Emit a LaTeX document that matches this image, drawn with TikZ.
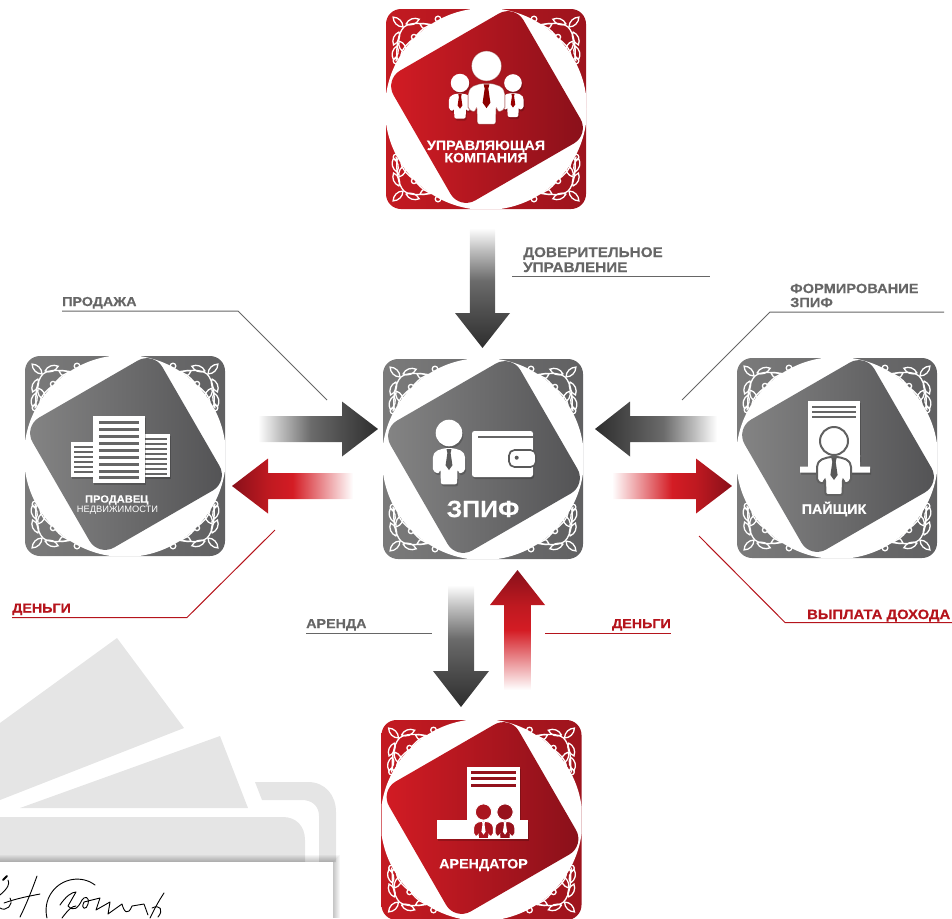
\documentclass[tikz,border=0pt]{standalone}
\usepackage{fontspec}
\setmainfont{Liberation Sans}
\newfontfamily\labfont[FakeStretch=1.1,FakeBold=0.3]{Liberation Sans Bold}
\newfontfamily\capfont[FakeStretch=1.06,FakeBold=0.2]{Liberation Sans Bold}
\usetikzlibrary{shadows}
\definecolor{redL}{HTML}{D41C24}
\definecolor{redD}{HTML}{88101A}
\definecolor{greyL}{HTML}{858585}
\definecolor{greyD}{HTML}{525254}
\definecolor{labgrey}{HTML}{666666}
\definecolor{labred}{HTML}{B5141C}
\definecolor{walletgrey}{HTML}{E5E5E5}
\pgfdeclarehorizontalshading{arrgrey}{100bp}{color(0bp)=(white);color(25bp)=(white);color(34bp)=(white!75!black);color(47bp)=(black!58);color(58bp)=(black!68);color(75bp)=(black!82);color(100bp)=(black!82)}
\pgfdeclarehorizontalshading{arrred}{100bp}{color(0bp)=(white);color(25bp)=(white);color(35bp)=(redL!40);color(50bp)=(redL);color(60bp)=(redL!90!black);color(75bp)=(redD);color(100bp)=(redD)}
\tikzset{
  vine/.style={draw=white,line width=1.3pt,line cap=round,fill=none},
  label node/.style={inner sep=0pt,anchor=base west,font={\labfont\fontsize{13}{13}\selectfont}},
  cap node/.style={inner sep=0pt,text=white,align=center,font={\capfont\fontsize{13.5}{13.5}\selectfont}},
  leader grey/.style={draw=labgrey,line width=1pt},
  leader red/.style={draw=labred,line width=1pt},
  iconwhite/.style={fill=white,draw=none,drop shadow={shadow xshift=1pt,shadow yshift=-2pt,opacity=.2,fill=black}},
  sig/.style={draw=black,line width=0.9pt,line cap=round,line join=round}
}
% leaf from origin along x
\newcommand\lf[3]{\draw[vine,shift={(#1,#2)},rotate=#3] (0,0) .. controls (4,3.8) and (10,3.8) .. (14,0) .. controls (10,-3.8) and (4,-3.8) .. (0,0);}
\newcommand\corner[4]{% cx cy xs ys
\begin{scope}[shift={(#1,#2)},xscale=#3,yscale=#4]
 \draw[vine] (-52,-84) .. controls (-64,-86) and (-76,-87) .. (-82,-82) .. controls (-88,-76) and (-90,-62) .. (-89,-50);
 \draw[vine] (-70,-73) .. controls (-64,-80) and (-60,-83) .. (-54,-84);
 \draw[vine] (-73,-70) .. controls (-80,-64) and (-84,-60) .. (-85,-54);
 \draw[vine] (-72,-72) circle (2.6);
 \draw[vine] (-48,-90) circle (2.8);
 \draw[vine] (-90,-48) circle (2.8);
 \draw[vine] (-52,-84) -- (-48,-88);
 \draw[vine] (-89,-52) -- (-90,-48);
 \lf{-80}{-85}{20}
 \lf{-83}{-82}{135}
 \lf{-87}{-77}{-113}
 \lf{-89}{-63}{-105}
 \lf{-66}{-85}{-25}
 \lf{-87}{-68}{-60}
\end{scope}}
% card: name cx cy light dark
\newcommand\card[5]{
 \node[minimum size=200pt,inner sep=0pt,rounded corners=15pt,left color=#4!92!black,right color=#5!72!#4] (#1) at (#2,#3) {};
 \corner{#2}{#3}{1}{1}\corner{#2}{#3}{-1}{1}\corner{#2}{#3}{1}{-1}\corner{#2}{#3}{-1}{-1}
 \begin{scope}
 \clip[rounded corners=15pt] (#2-100,#3-100) rectangle (#2+100,#3+100);
 \fill[white] (#2,#3) circle (101);
 \end{scope}
 \path[shade,left color=#4,right color=#5,rounded corners=18pt,shift={(#2+1,#3-2)},rotate=30] (-75,-75) rectangle (75,75);
}
% gradient arrow: shading, tail x, tail y, angle, total length, head length, head half, shaft half
\newcommand\garrow[9]{
 \coordinate (#1 tail) at (#3,#4);
 \path[shade,shading=#2,shading angle=#5,shift={(#1 tail)},rotate=#5]
  (0,#9) -- (#6-#7,#9) -- (#6-#7,#8) -- (#6,0) -- (#6-#7,-#8) -- (#6-#7,-#9) -- (0,-#9) -- cycle;
 \coordinate[shift={(#1 tail)},rotate=#5] (#1 tip) at (#6,0);
}
% person: x y scale fill tie outline-style
\newcommand\persn[6]{
 \begin{scope}[shift={(#1,#2)},scale=#3]
 \path[#6,fill=#4] (0,0) circle (14);
 \path[#6,fill=#4,rounded corners=2pt] (-5,16) -- (-14,19) -- (-17,24) -- (-17,40) -- (-11,43) -- (-9,38) -- (-8.5,54) -- (8.5,54) -- (9,38) -- (11,43) -- (17,40) -- (17,24) -- (14,19) -- (5,16) -- cycle;
 \fill[#5] (-2.6,17) -- (2.6,17) -- (1.7,21) -- (3.6,34) -- (0,39) -- (-3.6,34) -- (-1.7,21) -- cycle;
 \end{scope}}
\begin{document}
\begin{tikzpicture}[x=1pt,y=-1pt]
\useasboundingbox (0,0) rectangle (952,918);
% --- background wallet
\fill[walletgrey] (117,638) -- (184,728) -- (0,800) -- (0,723) -- cycle;
\fill[walletgrey] (220,736) -- (248,808) -- (20,808) -- cycle;
\fill[walletgrey] (255,782) -- (308,782) .. controls (325,782) and (336,795) .. (336,812) -- (336,862) -- (319,862) -- (319,816) .. controls (319,806) and (312,800) .. (302,800) -- (262,800) -- cycle;
\fill[walletgrey] (0,817) -- (283,817) .. controls (296,817) and (305,826) .. (305,840) -- (305,862) -- (0,862) -- cycle;
\foreach \i in {1,...,7} {\fill[black,opacity=.035] (0,862-\i) rectangle (333+\i,918);}
\fill[white] (0,862) rectangle (333,918);
\draw[sig,line width=2pt] (3,880) -- (7,876);
\draw[sig] (0,895) .. controls (8,888) and (10,884) .. (8,880);
\draw[sig] (37,876) .. controls (32,890) and (26,905) .. (20,917);
\draw[sig] (4,903) .. controls (18,898) and (30,896) .. (40,894);
\draw[sig] (0,908) .. controls (6,912) and (14,905) .. (10,898);
\draw[sig] (95,885) .. controls (82,875) and (62,878) .. (52,892) .. controls (46,900) and (45,910) .. (47,918);
\draw[sig] (60,905) .. controls (66,896) and (72,892) .. (76,892) -- (68,906) .. controls (74,912) and (78,908) .. (82,900) .. controls (84,896) and (90,896) .. (88,904) .. controls (87,910) and (80,910) .. (84,902) -- (100,898) -- (96,910) -- (110,902) -- (108,914) -- (122,904) .. controls (124,912) and (128,916) .. (132,906) -- (144,904) -- (148,915);
\draw[sig] (62,918) .. controls (68,910) and (72,906) .. (76,906);
\draw[sig] (164,893) .. controls (158,902) and (154,910) .. (150,918);
\draw[sig] (152,908) .. controls (160,904) and (164,910) .. (158,917);
% --- cards
\card{upr}{486}{109}{redL}{redD}
\card{zpif}{483}{459}{greyL}{greyD}
\card{prod}{125}{456}{greyL}{greyD}
\card{pay}{837}{458}{greyL}{greyD}
\card{aren}{481.5}{820}{redL}{redD}
% --- icon: upr
\persn{460}{83}{.66}{white}{red!60!black}{iconwhite}
\persn{513}{83}{.63}{white}{red!60!black}{iconwhite}
\persn{486.5}{66}{1.08}{white}{red!55!black}{draw=red!50!black,line width=1pt,draw opacity=.45}
\node[cap node] (uprt) at (486,151.5) {УПРАВЛЯЮЩАЯ\\[-1.2pt]КОМПАНИЯ};
% --- icon: zpif
\persn{449}{433}{.95}{white}{black!65}{iconwhite}
\path[iconwhite,rounded corners=2.5pt] (472,431) rectangle (533,477);
\fill[black!60] (478,435.5) rectangle (533,437.5);
\path[fill=white,draw=black!65,line width=1.7pt,rounded corners=5.5pt] (509,450) rectangle (536,467);
\fill[black!65] (516.7,457.7) circle (2);
\node[cap node,font={\capfont\fontsize{23.5}{23.5}\selectfont}] (zpift) at (483,509) {ЗПИФ};
% --- icon: seller
\path[iconwhite] (71,442) rectangle (93,477);
\path[iconwhite] (145,434) rectangle (170,477);
\foreach \yy in {446,451,456,461,466,471} {\fill[black!60] (74,\yy) rectangle (93,\yy+2);}
\foreach \yy in {438,443,448,453,458,463,468,473} {\fill[black!60] (145,\yy) rectangle (167,\yy+2);}
\path[iconwhite] (93,416) rectangle (145,483);
\foreach \yy in {421,428,435,442,449,456,463,470,476} {\fill[black!60] (99,\yy) rectangle (139,\yy+2.6);}
\node[cap node,font={\capfont\fontsize{10.5}{10.5}\selectfont}] (prodt) at (116.7,500) {ПРОДАВЕЦ};
\node[cap node,font={\fontsize{9.3}{9}\selectfont}] (prodt2) at (117.5,510.5) {НЕДВИЖИМОСТИ};
% --- icon: pay
\path[iconwhite] (808,401) rectangle (860,460);
\path[iconwhite] (800,466.7) -- (808,466.7) -- (808,455) -- (860,455) -- (860,466.7) -- (870,466.7) -- (870,472.7) -- (800,472.7) -- cycle;
\fill[black!60] (812.3,406) rectangle (856,408);
\fill[black!60] (812.3,411) rectangle (856,413);
\fill[black!60] (812.3,416) rectangle (856,418);
\fill[white] (834,441) circle (17);
\persn{834}{441}{1}{white}{black!65}{draw=black!62,line width=2pt}
\node[cap node,font={\capfont\fontsize{13.5}{13.5}\selectfont}] (payt) at (834,509) {ПАЙЩИК};
% --- icon: arendator
\path[iconwhite] (466.7,767) rectangle (519.5,825);
\path[iconwhite] (436.7,820) rectangle (528.3,839.3);
\fill[redD!85!redL] (471,770.7) rectangle (515.5,773.7);
\fill[redD!85!redL] (471,777.3) rectangle (515.5,780.3);
\fill[redD!85!redL] (471,784) rectangle (515.5,787);
\begin{scope}
\clip (460,790) rectangle (520,837);
\persn{483.5}{812}{.58}{redD!55!redL}{white}{draw=white,line width=.9pt}
\persn{505}{812}{.58}{redD!80!redL}{white}{draw=white,line width=.9pt}
\end{scope}
\node[cap node] (arent) at (483.5,865) {АРЕНДАТОР};
% --- arrows
\garrow{dov}{arrgrey}{482.5}{228}{-90}{120}{35}{27.5}{12.7}
\garrow{sell}{arrgrey}{258}{429}{0}{120}{36}{27.5}{13}
\garrow{sellm}{arrred}{353}{486}{180}{121}{36}{27.5}{13}
\garrow{form}{arrgrey}{717}{429}{180}{122}{35}{27.5}{13}
\garrow{payout}{arrred}{612}{486}{0}{120}{36}{27.5}{13}
\garrow{rent}{arrgrey}{461}{585}{-90}{122}{36}{28}{13}
\garrow{rentm}{arrred}{517.5}{690}{90}{120}{35}{27.5}{13.3}
% --- labels and leaders
\node[label node,text=labgrey] (lprod) at (62,306) {ПРОДАЖА};
\coordinate (c1a) at (62,311); \coordinate (c1b) at (238,311); \coordinate (c1c) at (327,400);
\draw[leader grey] (c1a) -- (c1b) -- (c1c);
\node[label node,text=labgrey,font={\labfont\fontsize{13.9}{13.9}\selectfont}] (ldov) at (523,257) {ДОВЕРИТЕЛЬНОЕ};
\node[label node,text=labgrey,font={\labfont\fontsize{13.9}{13.9}\selectfont}] (ldov2) at (523,272) {УПРАВЛЕНИЕ};
\coordinate (c2a) at (512,276); \coordinate (c2b) at (710,276);
\draw[leader grey] (c2a) -- (c2b);
\node[label node,text=labgrey,font={\labfont\fontsize{13.3}{13.3}\selectfont}] (lform) at (790,293) {ФОРМИРОВАНИЕ};
\node[label node,text=labgrey,font={\labfont\fontsize{13.3}{13.3}\selectfont}] (lform2) at (790,307) {ЗПИФ};
\coordinate (c3a) at (944,312); \coordinate (c3b) at (770,312); \coordinate (c3c) at (682,400);
\draw[leader grey] (c3a) -- (c3b) -- (c3c);
\node[label node,text=labred] (lden) at (12,612.5) {ДЕНЬГИ};
\coordinate (c4a) at (12,617.5); \coordinate (c4b) at (187,617.5); \coordinate (c4c) at (275,530);
\draw[leader red] (c4a) -- (c4b) -- (c4c);
\node[label node,text=labred,font={\labfont\fontsize{13.5}{13.5}\selectfont}] (lvyp) at (807,619) {ВЫПЛАТА ДОХОДА};
\coordinate (c5a) at (699,536); \coordinate (c5b) at (785,622.5); \coordinate (c5c) at (952,622.5);
\draw[leader red] (c5a) -- (c5b) -- (c5c);
\node[label node,text=labgrey] (laren) at (306,628) {АРЕНДА};
\coordinate (c6a) at (306,633.5); \coordinate (c6b) at (432,633.5);
\draw[leader grey] (c6a) -- (c6b);
\node[label node,text=labred,anchor=base east] (lden2) at (671,628) {ДЕНЬГИ};
\coordinate (c7a) at (545,633.5); \coordinate (c7b) at (671,633.5);
\draw[leader red] (c7a) -- (c7b);
\end{tikzpicture}
\end{document}
